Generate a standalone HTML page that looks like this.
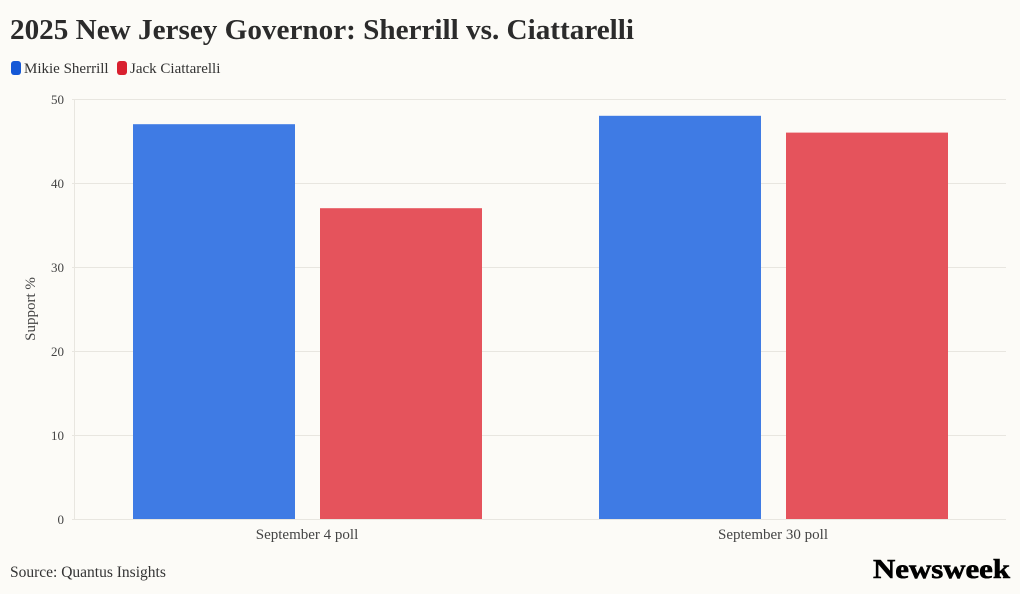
<!DOCTYPE html>
<html><head><meta charset="utf-8"><style>
html,body{margin:0;padding:0;background:#fcfbf7;}
body{width:1020px;height:594px;overflow:hidden;font-family:"Liberation Serif",serif;}
</style></head><body>
<svg width="1020" height="594" xmlns="http://www.w3.org/2000/svg" style="position:absolute;left:0;top:0">
<rect width="1020" height="594" fill="#fcfbf7"/>
<text x="10" y="39" font-family="Liberation Serif,serif" font-weight="bold" font-size="29" fill="#2b2b2b" textLength="624" lengthAdjust="spacingAndGlyphs">2025 New Jersey Governor: Sherrill vs. Ciattarelli</text>
<rect x="11" y="61" width="10" height="14" rx="3" fill="#1558d6"/>
<text x="24" y="73" font-size="15" fill="#333">Mikie Sherrill</text>
<rect x="117" y="61" width="10" height="14" rx="3" fill="#d9202f"/>
<text x="130" y="73" font-size="15" fill="#333">Jack Ciattarelli</text>
<g stroke="#e8e6e0" stroke-width="1">
<line x1="72" x2="1006" y1="99.5" y2="99.5"/>
<line x1="72" x2="1006" y1="183.5" y2="183.5"/>
<line x1="72" x2="1006" y1="267.5" y2="267.5"/>
<line x1="72" x2="1006" y1="351.5" y2="351.5"/>
<line x1="72" x2="1006" y1="435.5" y2="435.5"/>
<line x1="72" x2="1006" y1="519.5" y2="519.5"/>
<line x1="74.5" x2="74.5" y1="99" y2="519"/>
</g>
<g font-size="13" fill="#444" text-anchor="end">
<text x="64" y="104">50</text>
<text x="64" y="188">40</text>
<text x="64" y="272">30</text>
<text x="64" y="356">20</text>
<text x="64" y="440">10</text>
<text x="64" y="524">0</text>
</g>
<text transform="translate(35,309) rotate(-90)" text-anchor="middle" font-size="15" fill="#444">Support %</text>
<rect x="133" y="124.2" width="162" height="394.8" fill="#3f7be4"/>
<rect x="320" y="208.2" width="162" height="310.8" fill="#e5535c"/>
<rect x="599" y="115.8" width="162" height="403.2" fill="#3f7be4"/>
<rect x="786" y="132.6" width="162" height="386.4" fill="#e5535c"/>
<g font-size="15" fill="#444" text-anchor="middle">
<text x="307" y="539">September 4 poll</text>
<text x="773" y="539">September 30 poll</text>
</g>
<text x="10" y="577" font-size="15.5" fill="#333">Source: Quantus Insights</text>
<text x="873" y="578" font-size="27" font-weight="bold" fill="#000" stroke="#000" stroke-width="0.6" textLength="137" lengthAdjust="spacingAndGlyphs">Newsweek</text>
</svg>
</body></html>
